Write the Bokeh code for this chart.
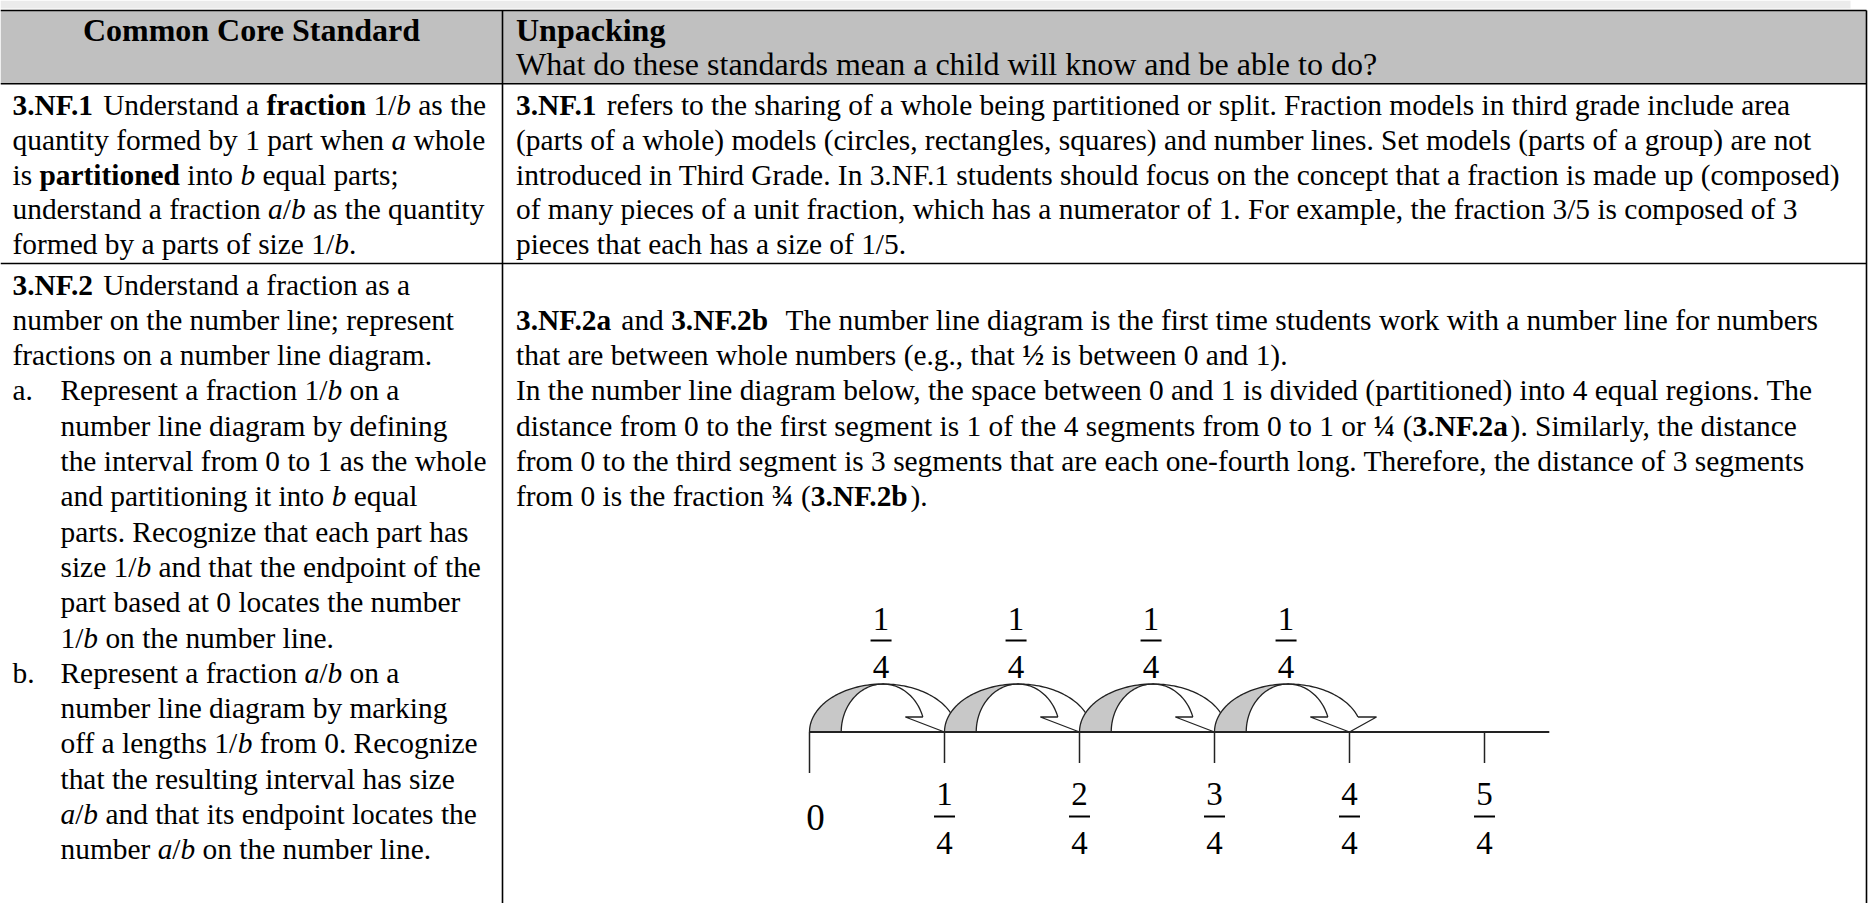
import re
import numpy as np
from bokeh.plotting import figure
from bokeh.models import Range1d, ColumnDataSource
from bokeh.core.properties import value
from bokeh.embed import file_html
from bokeh.resources import INLINE

# ---------------------------------------------------------------- content
HEADER_LEFT = "Common Core Standard"
HEADER_RIGHT = [
    "**Unpacking**",
    "What do these standards mean a child will know and be able to do?",
]
ROW1_LEFT = [
    "**3.NF.1** Understand a **fraction** 1/*b* as the",
    "quantity formed by 1 part when *a* whole",
    "is **partitioned** into *b* equal parts;",
    "understand a fraction *a*/*b* as the quantity",
    "formed by a parts of size 1/*b*.",
]
ROW1_RIGHT = [
    "**3.NF.1** refers to the sharing of a whole being partitioned or split. Fraction models in third grade include area",
    "(parts of a whole) models (circles, rectangles, squares) and number lines. Set models (parts of a group) are not",
    "introduced in Third Grade. In 3.NF.1 students should focus on the concept that a fraction is made up (composed)",
    "of many pieces of a unit fraction, which has a numerator of 1. For example, the fraction 3/5 is composed of 3",
    "pieces that each has a size of 1/5.",
]
ROW2_LEFT = [
    "**3.NF.2** Understand a fraction as a",
    "number on the number line; represent",
    "fractions on a number line diagram.",
    "a.\tRepresent a fraction 1/*b* on a",
    "\tnumber line diagram by defining",
    "\tthe interval from 0 to 1 as the whole",
    "\tand partitioning it into *b* equal",
    "\tparts. Recognize that each part has",
    "\tsize 1/*b* and that the endpoint of the",
    "\tpart based at 0 locates the number",
    "\t1/*b* on the number line.",
    "b.\tRepresent a fraction *a*/*b* on a",
    "\tnumber line diagram by marking",
    "\toff a lengths 1/*b* from 0. Recognize",
    "\tthat the resulting interval has size",
    "\t*a*/*b* and that its endpoint locates the",
    "\tnumber *a*/*b* on the number line.",
]
ROW2_RIGHT = [
    "",
    "**3.NF.2a** and **3.NF.2b**  The number line diagram is the first time students work with a number line for numbers",
    "that are between whole numbers (e.g., that **½** is between 0 and 1).",
    "In the number line diagram below, the space between 0 and 1 is divided (partitioned) into 4 equal regions. The",
    "distance from 0 to the first segment is 1 of the 4 segments from 0 to 1 or **¼** (**3.NF.2a**). Similarly, the distance",
    "from 0 to the third segment is 3 segments that are each one-fourth long. Therefore, the distance of 3 segments",
    "from 0 is the fraction **¾** (**3.NF.2b**).",
]

# number line values
NL_TICKS = [0.0, 0.25, 0.5, 0.75, 1.0, 1.25]
NL_TICK_NUM = ["", "1", "2", "3", "4", "5"]
NL_TICK_DEN = ["", "4", "4", "4", "4", "4"]
NL_ZERO_LABEL = "0"
NL_LINE_END = 1.37
JUMP_FROM = [0.0, 0.25, 0.5, 0.75]
JUMP_SIZE = 0.25
JUMP_NUM = "1"
JUMP_DEN = "4"

# ---------------------------------------------------------------- font metrics (Times compatible)
_R = dict(zip("ABCDEFGHIJKLMNOPQRSTUVWXYZ",
              [722, 667, 667, 722, 611, 556, 722, 722, 333, 389, 722, 611, 889, 722, 722, 556, 722, 667, 556, 611, 722, 722, 944, 722, 722, 611]))
_R.update(zip("abcdefghijklmnopqrstuvwxyz",
              [444, 500, 444, 500, 444, 333, 500, 500, 278, 278, 500, 278, 778, 500, 500, 500, 500, 333, 389, 278, 500, 500, 722, 500, 500, 444]))
_R.update({" ": 250, ".": 250, ",": 250, ";": 278, ":": 278, "(": 333, ")": 333, "?": 444, "/": 278, "-": 333,
           "½": 750, "¼": 750, "¾": 750})
_R.update({d: 500 for d in "0123456789"})
_B = dict(zip("ABCDEFGHIJKLMNOPQRSTUVWXYZ",
              [722, 667, 722, 722, 667, 611, 778, 778, 389, 500, 778, 667, 944, 722, 778, 611, 778, 722, 556, 667, 722, 722, 1000, 722, 722, 667]))
_B.update(zip("abcdefghijklmnopqrstuvwxyz",
              [500, 556, 444, 556, 444, 333, 500, 556, 278, 333, 556, 278, 833, 556, 500, 556, 556, 444, 389, 333, 556, 500, 722, 500, 500, 444]))
_B.update({" ": 250, ".": 250, ",": 250, ";": 333, ":": 333, "(": 333, ")": 333, "?": 500, "/": 278, "-": 333,
           "½": 750, "¼": 750, "¾": 750})
_B.update({d: 500 for d in "0123456789"})
_I = dict(_R)
_I.update({"a": 500, "b": 500})
METRICS = {"normal": _R, "bold": _B, "italic": _I}


def text_width(s, style, size):
    t = METRICS[style]
    return sum(t.get(ch, 500) for ch in s) * size / 1000.0


def parse_runs(line):
    runs, bold, ital = [], False, False
    for tok in re.split(r"(\*\*|\*)", line):
        if tok == "**":
            bold = not bold
        elif tok == "*":
            ital = not ital
        elif tok:
            runs.append((tok, "bold" if bold else ("italic" if ital else "normal")))
    return runs


# ---------------------------------------------------------------- layout constants (page pixels)
FONT = "Liberation Serif"
BODY = 29.4
HEAD = 32.0
W, H = 1868, 903
TABLE_TOP, HEAD_BOTTOM, ROW1_BOTTOM = 10.0, 83.3, 263.0
COL_DIV, RIGHT_EDGE = 502.0, 1866.0
LEFT_X, INDENT_X, RIGHT_X = 12.0, 60.0, 515.5
TDY = -8.5   # baseline correction for rendered text

sources = {}


def add_text(x, y, s, style, size, align="left"):
    key = (style, size, align)
    d = sources.setdefault(key, {"x": [], "y": [], "text": []})
    d["x"].append(x)
    d["y"].append(y + TDY)
    d["text"].append(s)


def layout_line(x0, y, line, size, indent=None):
    parts = line.split("\t")
    for k, part in enumerate(parts):
        x = x0 if k == 0 else indent
        for txt, style in parse_runs(part):
            lead = len(txt) - len(txt.lstrip(" "))
            core = txt.strip(" ")
            if core:
                add_text(x + text_width(txt[:lead], style, size), y, core, style, size)
            x += text_width(txt, style, size)


# header
add_text(COL_DIV / 2, 38.0, HEADER_LEFT, "bold", HEAD, "center")
for i, ln in enumerate(HEADER_RIGHT):
    layout_line(RIGHT_X, 38.0 + 34.0 * i, ln, HEAD)
# row 1
for i, ln in enumerate(ROW1_LEFT):
    layout_line(LEFT_X, 113.3 + 34.7 * i, ln, BODY)
for i, ln in enumerate(ROW1_RIGHT):
    layout_line(RIGHT_X, 113.3 + 34.7 * i, ln, BODY)
# row 2
for i, ln in enumerate(ROW2_LEFT):
    layout_line(LEFT_X, 292.5 + 35.3 * i, ln, BODY, INDENT_X)
for i, ln in enumerate(ROW2_RIGHT):
    layout_line(RIGHT_X, 292.5 + 35.3 * i, ln, BODY)

# ---------------------------------------------------------------- figure
p = figure(width=W, height=H, x_range=Range1d(0, W), y_range=Range1d(H, 0),
           output_backend="svg", toolbar_location=None,
           x_axis_location=None, y_axis_location=None, min_border=0)
p.grid.visible = False
p.outline_line_color = None
p.background_fill_color = "white"
p.border_fill_color = "white"

# page strip and table structure
p.quad(left=[0], right=[1850], top=[0], bottom=[8], fill_color="#ebebeb", line_color=None)
p.quad(left=[0], right=[RIGHT_EDGE], top=[TABLE_TOP], bottom=[HEAD_BOTTOM],
       fill_color="#c0c0c0", line_color=None)
p.segment(x0=[0, 0, 0], x1=[RIGHT_EDGE] * 3,
          y0=[TABLE_TOP, HEAD_BOTTOM, ROW1_BOTTOM], y1=[TABLE_TOP, HEAD_BOTTOM, ROW1_BOTTOM],
          line_color="black", line_width=1.6)
p.segment(x0=[COL_DIV, RIGHT_EDGE], x1=[COL_DIV, RIGHT_EDGE],
          y0=[TABLE_TOP] * 2, y1=[H] * 2, line_color="black", line_width=1.6)

# ---------------------------------------------------------------- number line diagram
X0, PPU, YL = 809.0, 540.0, 731.5          # value 0 at page x 809, 540 px per unit
p.extra_x_ranges = {"nl": Range1d((0 - X0) / PPU, (W - X0) / PPU)}
NL = dict(x_range_name="nl")

ARC_H, BARB_H = 48.0, 15.0
th_end = np.arcsin(BARB_H / ARC_H)
th = np.linspace(np.pi, th_end, 80)
th_l = np.linspace(np.pi, np.pi / 2, 50)
for s in JUMP_FROM:
    J = JUMP_SIZE
    c, ao, ai = s + 0.545 * J, 0.545 * J, 0.31 * J
    ox, oy = c + ao * np.cos(th), YL - ARC_H * np.sin(th)
    ix, iy = c + ai * np.cos(th), YL - ARC_H * np.sin(th)
    wx = list(ox) + [ox[-1], s]
    wy = list(oy) + [YL, YL]
    bx = list(c + ao * np.cos(th_l)) + list((c + ai * np.cos(th_l))[::-1])
    by = list(YL - ARC_H * np.sin(th_l)) + list((YL - ARC_H * np.sin(th_l))[::-1])
    ax = [ix[-1], s + 0.71 * J, s + J, s + 1.2 * J, ox[-1]]
    ay = [YL - BARB_H, YL - BARB_H, YL, YL - BARB_H, YL - BARB_H]
    p.patch(wx, wy, fill_color="white", line_color=None, **NL)
    p.patch(bx, by, fill_color="#c8c8c8", line_color=None, **NL)
    p.multi_line([list(ox), list(ix), ax], [list(oy), list(iy), ay],
                 line_color="#222222", line_width=1.3, **NL)

# axis line and ticks
p.segment(x0=[NL_TICKS[0]], x1=[NL_LINE_END], y0=[YL], y1=[YL], line_color="#222222", line_width=1.8, **NL)
tick_len = [41 if t == 0 else 31 for t in NL_TICKS]
p.segment(x0=NL_TICKS, x1=NL_TICKS, y0=[YL] * len(NL_TICKS), y1=[YL + L for L in tick_len],
          line_color="#222222", line_width=1.5, **NL)

# fraction labels: numerator / bar / denominator, placed at the number-line values
NLF = 33
BAR_HALF = 10.5 / PPU      # half width of a fraction bar (21 px)
tk = [t for t, n in zip(NL_TICKS, NL_TICK_NUM) if n]
jx = [s + 0.53 * JUMP_SIZE for s in JUMP_FROM]
for xs, nums, dens, y_num, y_bar, y_den in [
        (tk, [n for n in NL_TICK_NUM if n], [d for d in NL_TICK_DEN if d], 802, 816, 851),
        (jx, [JUMP_NUM] * len(jx), [JUMP_DEN] * len(jx), 627, 640, 675)]:
    for xv, nm, dn in zip(xs, nums, dens):
        add_text(X0 + PPU * xv - text_width(nm, "normal", NLF) / 2, y_num, nm, "normal", NLF)
        add_text(X0 + PPU * xv - text_width(dn, "normal", NLF) / 2, y_den, dn, "normal", NLF)
    p.quad(left=[v - BAR_HALF for v in xs], right=[v + BAR_HALF for v in xs],
           top=[y_bar - 1] * len(xs), bottom=[y_bar + 1] * len(xs),
           fill_color="black", line_color=None, **NL)
add_text(X0 + PPU * NL_TICKS[0] + 6 - text_width(NL_ZERO_LABEL, "normal", 37) / 2, 825,
         NL_ZERO_LABEL, "normal", 37)

# texts
for (style, size, align), d in sources.items():
    p.text(x="x", y="y", text="text", source=ColumnDataSource(d),
           text_font=value(FONT), text_font_size=value(f"{size}px"),
           text_font_style=style, text_color="black",
           text_align=align, text_baseline="alphabetic")

open("out.html", "w").write(file_html(p, INLINE))
